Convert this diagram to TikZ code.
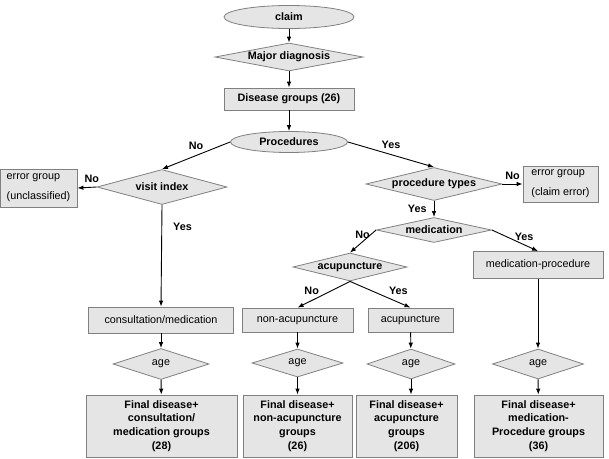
\documentclass[tikz,border=0pt]{standalone}
\usepackage{fontspec}
\setmainfont{Liberation Sans}
\usetikzlibrary{arrows.meta,shapes.geometric}
\tikzset{%
  >={Latex[width=4.5pt,length=6pt]},
  % Specifications for style of nodes:
            base/.style = {draw=gray, fill=gray!20, line width=0.8pt, inner sep=0pt,
                           text centered, font=\fontsize{10.8}{13.5}\selectfont},
       startnode/.style = {base, ellipse, font=\fontsize{10.8}{13.5}\selectfont\bfseries},
        decision/.style = {base, diamond, aspect=4, font=\fontsize{10.8}{13.5}\selectfont\bfseries},
         agenode/.style = {base, diamond, aspect=3},
        groupbox/.style = {base, rectangle},
        finalbox/.style = {base, rectangle, align=center, minimum height=62pt,
                           font=\fontsize{10.8}{13.7}\selectfont\bfseries},
        errorbox/.style = {base, rectangle, align=left,
                           font=\fontsize{10.8}{20}\selectfont},
            flow/.style = {->, line width=0.9pt, black},
          answer/.style = {font=\fontsize{10.8}{13}\selectfont\bfseries, inner sep=1pt},
}

\begin{document}
\begin{tikzpicture}[x=1pt, y=-1pt]
  \useasboundingbox (0,0) rectangle (609,458);
  % Specification of nodes (position, etc.)
  \node (claim)      [startnode, minimum width=130pt, minimum height=23pt] at (289,17) {claim};
  \node (major)      [decision, aspect=5.3,
                      minimum width=148pt, minimum height=28pt] at (289,57) {Major diagnosis};
  \node (disease)    [groupbox, font=\fontsize{10.8}{13.5}\selectfont\bfseries,
                      minimum width=130pt, minimum height=22pt] at (289,99) {Disease groups (26)};
  \node (procedures) [startnode, minimum width=117pt, minimum height=21pt] at (289,142) {Procedures};

  \node (visit)      [decision, minimum width=130pt, minimum height=35pt] at (162,187) {visit index};
  \node (errunclass) [errorbox, minimum width=77pt, minimum height=38pt] at (38.5,188) {error group\\(unclassified)};
  \node (ptypes)     [decision, aspect=4.1, minimum width=136pt, minimum height=33pt] at (434,184) {procedure types};
  \node (errclaim)   [errorbox, minimum width=75pt, minimum height=36pt] at (560.5,184) {error group\\(claim error)};

  \node (medication) [decision, aspect=4.6, minimum width=115pt, minimum height=25pt] at (434,230) {medication};
  \node (acu)        [decision, minimum width=114pt, minimum height=28pt] at (350,267) {acupuncture};
  \node (medproc)    [groupbox, minimum width=130pt, minimum height=27pt] at (538,265) {medication-procedure};

  \node (consult)    [groupbox, minimum width=145pt, minimum height=26pt] at (161,320) {consultation/medication};
  \node (nonacu)     [groupbox, minimum width=111pt, minimum height=24pt] at (297.5,320) {non-acupuncture};
  \node (acubox)     [groupbox, minimum width=85pt, minimum height=24pt] at (410.5,320) {acupuncture};

  \node (ageA)       [agenode, minimum width=96pt, minimum height=31pt] at (161,364) {age};
  \node (ageB)       [agenode, minimum width=91pt, minimum height=28pt] at (297.5,363) {age};
  \node (ageC)       [agenode, minimum width=88pt, minimum height=30pt] at (411,364) {age};
  \node (ageD)       [agenode, minimum width=91pt, minimum height=30pt] at (538,364) {age};

  \node (finalA)     [finalbox, minimum width=151pt] at (161.5,426) {Final disease+\\consultation/\\medication groups\\(28)};
  \node (finalB)     [finalbox, minimum width=109pt] at (297.5,426) {Final disease+\\non-acupuncture\\groups\\(26)};
  \node (finalC)     [finalbox, minimum width=101pt] at (406.5,426) {Final disease+\\acupuncture\\groups\\(206)};
  \node (finalD)     [finalbox, minimum width=129pt] at (538.5,426) {Final disease+\\medication-\\Procedure groups\\(36)};

  \draw[flow] (claim) -- (major);
  \draw[flow] (major) -- (disease);
  \draw[flow] (disease) -- (procedures);
  \draw[flow] (procedures.west) -- (visit.north) node[answer, midway, above=4pt] {No};
  \draw[flow] (procedures.east) -- (ptypes.north) node[answer, midway, above=4pt] {Yes};
  \draw[flow] (visit.west) -- (errunclass.east) node[answer, pos=0.25, above=3pt] {No};
  \draw[flow] (visit.south) -- (consult.north) node[answer, pos=0.22, right=10pt] {Yes};
  \draw[flow] (ptypes.east) -- (errclaim.west) node[answer, midway, above=3pt] {No};
  \draw[flow] (ptypes.south) -- (medication.north) node[answer, midway, left=6pt] {Yes};
  \draw[flow] (medication.west) -- (acu.north) node[answer, at start, left=5pt, yshift=-5pt] {No};
  \draw[flow] (medication.east) -- (medproc.north) node[answer, pos=0.7, above=3pt] {Yes};
  \draw[flow] (acu.south) -- (nonacu.north) node[answer, pos=0.73, above=4pt] {No};
  \draw[flow] (acu.south) -- (acubox.north) node[answer, pos=0.8, above=6pt] {Yes};

  \draw[flow] (consult) -- (ageA);
  \draw[flow] (ageA) -- (finalA);
  \draw[flow] (nonacu) -- (ageB);
  \draw[flow] (ageB) -- (finalB);
  \draw[flow] (acubox) -- (ageC);
  \draw[flow] (ageC.south) -- (ageC.south |- finalC.north);
  \draw[flow] (medproc) -- (ageD);
  \draw[flow] (ageD) -- (finalD);

  \end{tikzpicture}
\end{document}
